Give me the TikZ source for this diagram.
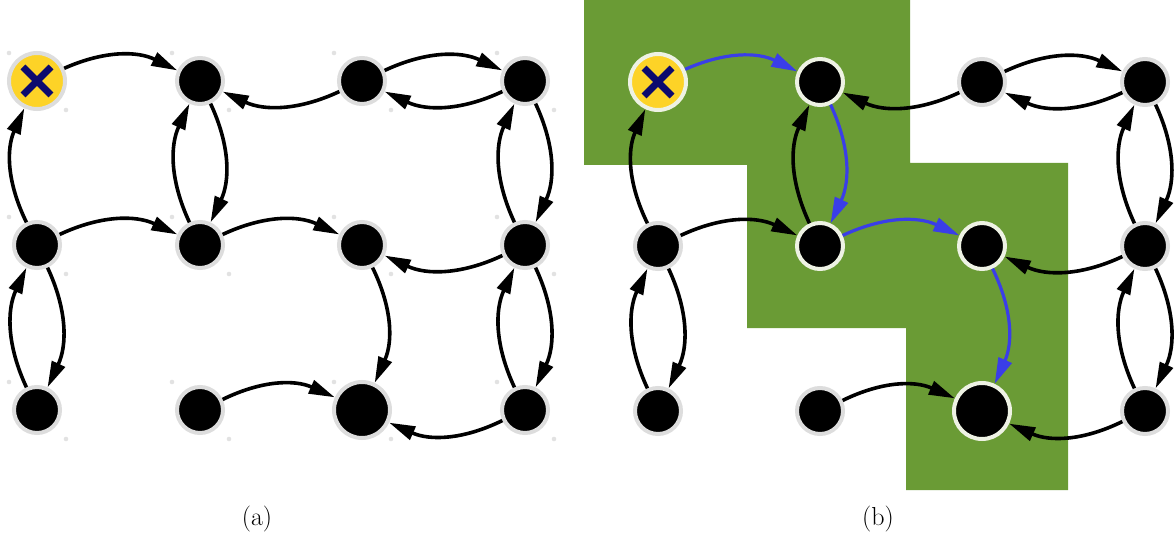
\documentclass[tikz,border=0pt]{standalone}
\usepackage{fontspec}
\usetikzlibrary{arrows.meta}
\definecolor{ring}{HTML}{DDDDDD}
\definecolor{ringw}{HTML}{EEF2E4}
\definecolor{xyellow}{HTML}{FDD327}
\definecolor{navy}{HTML}{0C0A6E}
\definecolor{grass}{HTML}{6A9B35}
\definecolor{pathblue}{HTML}{3A3EE8}
\definecolor{dotgray}{HTML}{E2E2E2}
\tikzset{
  nd/.style={circle,fill=black,draw=ring,line width=4pt,minimum size=46pt,inner sep=0pt},
  bignd/.style={nd,minimum size=56pt},
  xnd/.style={circle,fill=xyellow,draw=ring,line width=4pt,minimum size=56pt,inner sep=0pt,
    path picture={\draw[navy,line width=7pt] (path picture bounding box.center) +(-14,-14) -- +(14,14)
      (path picture bounding box.center) +(-14,14) -- +(14,-14);}},
  ed/.style={line width=3.6pt,-{Triangle[length=26pt,width=14pt]},bend left=25},
  bed/.style={ed,color=pathblue,line width=3.2pt},
  captxt/.style={font=\fontsize{26}{30}\selectfont},
  gdot/.style={fill=dotgray},
}
\begin{document}
\begin{tikzpicture}[x=1pt,y=1pt]
\useasboundingbox (0,0) rectangle (1175,539);
% green region
\fill[grass] (584,539) -- (910,539) -- (910,376) -- (1068,376) -- (1068,49) -- (906,49) -- (906,211) -- (747,211) -- (747,374) -- (584,374) -- cycle;

% ---------- panel (a) ----------
\foreach \x in {37,200,362,525} \foreach \y in {458,294,129} {
  \fill[gdot] (\x-28,\y+28) circle (2.3);
  \fill[gdot] (\x+29,\y-29) circle (2.3);
}
\node[xnd] (a11) at (37,458) {};
\node[nd] (a12) at (200,458) {};
\node[nd] (a13) at (362,458) {};
\node[nd] (a14) at (525,458) {};
\node[nd] (a21) at (37,294) {};
\node[nd] (a22) at (200,294) {};
\node[nd] (a23) at (362,294) {};
\node[nd] (a24) at (525,294) {};
\node[nd] (a31) at (37,129) {};
\node[nd] (a32) at (200,129) {};
\node[bignd] (a33) at (362,129) {};
\node[nd] (a34) at (525,129) {};

\draw[ed] (a11) to (a12);
\draw[ed] (a13) to (a12);
\draw[ed] (a13) to (a14);
\draw[ed] (a14) to (a13);
\draw[ed] (a21) to (a11);
\draw[ed] (a22) to (a12);
\draw[ed] (a12) to (a22);
\draw[ed] (a24) to (a14);
\draw[ed] (a14) to (a24);
\draw[ed] (a21) to (a22);
\draw[ed] (a22) to (a23);
\draw[ed] (a24) to (a23);
\draw[ed] (a23) to (a33);
\draw[ed] (a31) to (a21);
\draw[ed] (a21) to (a31);
\draw[ed] (a34) to (a24);
\draw[ed] (a24) to (a34);
\draw[ed] (a32) to (a33);
\draw[ed] (a34) to (a33);

% ---------- panel (b) ----------
\node[xnd,draw=ringw] (b11) at (658,457) {};
\node[nd,draw=ringw] (b12) at (820,457) {};
\node[nd] (b13) at (982,457) {};
\node[nd] (b14) at (1145,457) {};
\node[nd] (b21) at (658,293) {};
\node[nd,draw=ringw] (b22) at (820,293) {};
\node[nd,draw=ringw] (b23) at (982,293) {};
\node[nd] (b24) at (1145,293) {};
\node[nd] (b31) at (658,128) {};
\node[nd] (b32) at (820,128) {};
\node[bignd,draw=ringw] (b33) at (982,128) {};
\node[nd] (b34) at (1145,128) {};

\draw[bed] (b11) to (b12);
\draw[ed] (b13) to (b12);
\draw[ed] (b13) to (b14);
\draw[ed] (b14) to (b13);
\draw[ed] (b21) to (b11);
\draw[ed] (b22) to (b12);
\draw[bed] (b12) to (b22);
\draw[ed] (b24) to (b14);
\draw[ed] (b14) to (b24);
\draw[ed] (b21) to (b22);
\draw[bed] (b22) to (b23);
\draw[ed] (b24) to (b23);
\draw[bed] (b23) to (b33);
\draw[ed] (b31) to (b21);
\draw[ed] (b21) to (b31);
\draw[ed] (b34) to (b24);
\draw[ed] (b24) to (b34);
\draw[ed] (b32) to (b33);
\draw[ed] (b34) to (b33);

\node[captxt] (la) at (257,20) {(a)};
\node[captxt] (lb) at (878,20) {(b)};
\end{tikzpicture}
\end{document}
